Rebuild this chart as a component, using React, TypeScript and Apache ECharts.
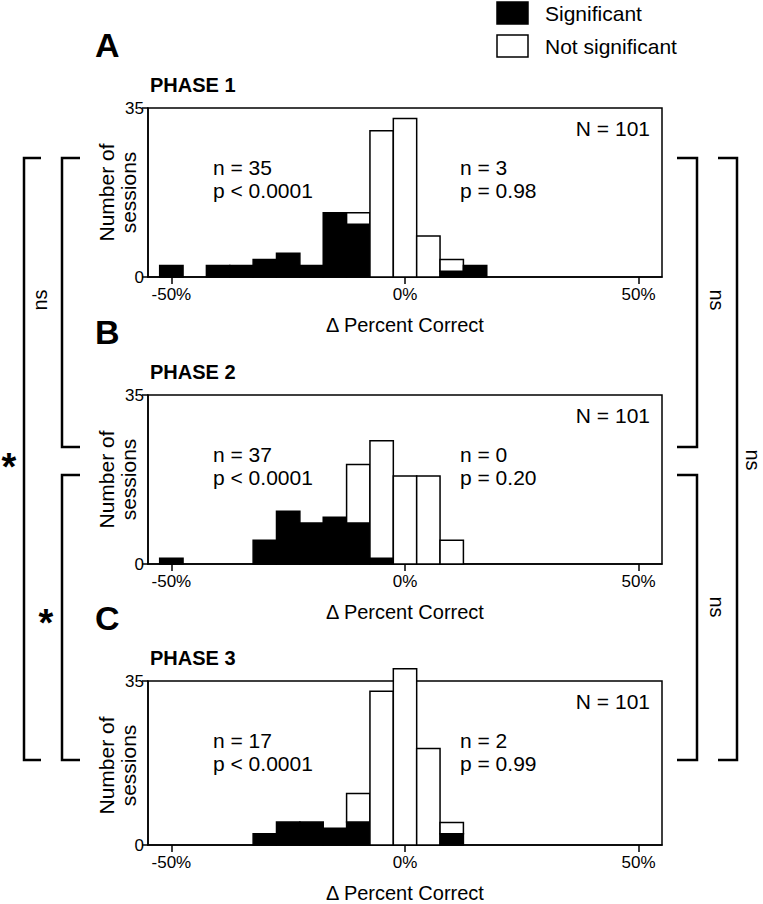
import React, { useEffect, useRef } from "react";
import * as echarts from "echarts";

const binCenters = [-50, -45, -40, -35, -30, -25, -20, -15, -10, -5, 0, 5, 10, 15, 20, 25, 30, 35, 40, 45, 50];
const binWidth = 5;
const phase1Sig = [2.4, 0, 2.4, 2.4, 3.6, 4.9, 2.4, 13.3, 10.9, 0, 0, 0, 1.2, 2.4, 0, 0, 0, 0, 0, 0, 0];
const phase1Non = [0, 0, 0, 0, 0, 0, 0, 0, 2.4, 30.3, 32.8, 8.5, 2.4, 0, 0, 0, 0, 0, 0, 0, 0];
const phase2Sig = [1.2, 0, 0, 0, 4.9, 10.9, 8.5, 9.7, 8.5, 1.2, 0, 0, 0, 0, 0, 0, 0, 0, 0, 0, 0];
const phase2Non = [0, 0, 0, 0, 0, 0, 0, 0, 12.1, 24.3, 18.2, 18.2, 4.9, 0, 0, 0, 0, 0, 0, 0, 0];
const phase3Sig = [0, 0, 0, 0, 2.4, 4.9, 4.9, 3.6, 4.9, 0, 0, 0, 2.4, 0, 0, 0, 0, 0, 0, 0, 0];
const phase3Non = [0, 0, 0, 0, 0, 0, 0, 0, 6.1, 32.8, 37.6, 20.6, 2.4, 0, 0, 0, 0, 0, 0, 0, 0];
const panelLetters = ["A", "B", "C"];
const panelTitles = ["PHASE 1", "PHASE 2", "PHASE 3"];
const totalLabels = ["N = 101", "N = 101", "N = 101"];
const leftStats = ["n = 35\np < 0.0001", "n = 37\np < 0.0001", "n = 17\np < 0.0001"];
const rightStats = ["n = 3\np = 0.98", "n = 0\np = 0.20", "n = 2\np = 0.99"];
const xTicks = [-50, 0, 50];
const yTicks = [0, 35];
const legendLabels = ["Significant", "Not significant"];

const sigSeries = [phase1Sig, phase2Sig, phase3Sig];
const nonSeries = [phase1Non, phase2Non, phase3Non];

const FONT = "'Liberation Sans', Arial, Helvetica, sans-serif";

export default function App() {
  const ref = useRef<HTMLDivElement>(null);

  useEffect(() => {
    if (!ref.current) return;
    const chart = echarts.init(ref.current, null, { renderer: "svg", width: 763, height: 904 });

    const baselines = [277, 564, 850];
    const H = 169;
    const gridLeft = 148;
    const gridRight = 763 - 662;

    const grids: any[] = [];
    const xAxes: any[] = [];
    const yAxes: any[] = [];
    const series: any[] = [];
    const graphics: any[] = [];

    baselines.forEach((b, i) => {
      const t = b - H;
      grids.push({
        left: gridLeft,
        right: gridRight,
        top: t,
        height: H,
        show: true,
        borderColor: "#000",
        borderWidth: 1.5,
        backgroundColor: "transparent",
        containLabel: false,
      });
      xAxes.push({
        type: "value",
        gridIndex: i,
        min: -55,
        max: 55,
        axisLine: { show: true, onZero: false, lineStyle: { color: "#000", width: 1.5 } },
        axisTick: { show: true, customValues: xTicks, length: 7, lineStyle: { color: "#000", width: 1.5 } },
        axisLabel: {
          show: true,
          customValues: xTicks,
          formatter: (v: number) => `${v}%`,
          color: "#000",
          fontSize: 17,
          fontFamily: FONT,
          margin: 9,
        },
        splitLine: { show: false },
        name: "\u0394 Percent Correct",
        nameLocation: "middle",
        nameGap: 38,
        nameTextStyle: { color: "#000", fontSize: 20, fontFamily: FONT },
      });
      yAxes.push({
        type: "value",
        gridIndex: i,
        min: 0,
        max: 35,
        axisLine: { show: true, onZero: false, lineStyle: { color: "#000", width: 1.5 } },
        axisTick: { show: true, customValues: yTicks, length: 6, lineStyle: { color: "#000", width: 1.5 } },
        axisLabel: {
          show: true,
          customValues: yTicks,
          color: "#000",
          fontSize: 17,
          fontFamily: FONT,
          margin: 4,
          padding: [0, 0, 4, 0],
        },
        splitLine: { show: false },
      });

      const data = binCenters.map((c, k) => [c, sigSeries[i][k], nonSeries[i][k]]);
      series.push({
        type: "custom",
        xAxisIndex: i,
        yAxisIndex: i,
        clip: false,
        data,
        encode: { x: 0, y: [1, 2] },
        renderItem: (params: any, api: any) => {
          const c = api.value(0);
          const s = api.value(1);
          const n = api.value(2);
          const children: any[] = [];
          const left = api.coord([c - binWidth / 2, 0])[0];
          const right = api.coord([c + binWidth / 2, 0])[0];
          const y0 = api.coord([c, 0])[1];
          const y1 = api.coord([c, s])[1];
          const y2 = api.coord([c, s + n])[1];
          if (s > 0) {
            children.push({
              type: "rect",
              shape: { x: left, y: y1, width: right - left, height: y0 - y1 },
              style: { fill: "#000", stroke: "#000", lineWidth: 1.5 },
            });
          }
          if (n > 0) {
            children.push({
              type: "rect",
              shape: { x: left, y: y2, width: right - left, height: y1 - y2 },
              style: { fill: "#fff", stroke: "#000", lineWidth: 1.5 },
            });
          }
          return { type: "group", children };
        },
      });

      // Panel letter and title
      graphics.push({
        type: "text",
        x: 95,
        y: t - 63,
        style: { text: panelLetters[i], font: `bold 34px ${FONT}`, fill: "#000", verticalAlign: "middle" },
      });
      graphics.push({
        type: "text",
        x: 150,
        y: t - 23,
        style: { text: panelTitles[i], font: `bold 20px ${FONT}`, fill: "#000", verticalAlign: "middle" },
      });
      graphics.push({
        type: "text",
        x: 650,
        y: t + 20,
        style: { text: totalLabels[i], font: `21px ${FONT}`, fill: "#000", align: "right", verticalAlign: "middle" },
      });
      graphics.push({
        type: "text",
        x: 213,
        y: b - 98,
        style: { text: leftStats[i], font: `21px ${FONT}`, lineHeight: 23, fill: "#000", verticalAlign: "middle" },
      });
      graphics.push({
        type: "text",
        x: 460,
        y: b - 98,
        style: { text: rightStats[i], font: `21px ${FONT}`, lineHeight: 23, fill: "#000", verticalAlign: "middle" },
      });
      graphics.push({
        type: "text",
        x: 117,
        y: t + H / 2,
        rotation: Math.PI / 2,
        style: {
          text: "Number of\nsessions",
          font: `21px ${FONT}`,
          lineHeight: 22,
          fill: "#000",
          align: "center",
          verticalAlign: "middle",
        },
      });
    });

    // Legend
    graphics.push({ type: "rect", shape: { x: 497, y: 2, width: 31, height: 22 }, style: { fill: "#000", stroke: "#000", lineWidth: 1.5 } });
    graphics.push({ type: "rect", shape: { x: 497, y: 35, width: 31, height: 22 }, style: { fill: "#fff", stroke: "#000", lineWidth: 1.5 } });
    graphics.push({ type: "text", x: 545, y: 13, style: { text: legendLabels[0], font: `21px ${FONT}`, fill: "#000", verticalAlign: "middle" } });
    graphics.push({ type: "text", x: 545, y: 46, style: { text: legendLabels[1], font: `21px ${FONT}`, fill: "#000", verticalAlign: "middle" } });

    // Brackets
    const br = (pts: number[][]) => ({
      type: "polyline",
      shape: { points: pts },
      style: { stroke: "#000", lineWidth: 2.5, fill: null },
    });
    graphics.push(br([[80, 158], [62, 158], [62, 447], [80, 447]]));
    graphics.push(br([[80, 475], [62, 475], [62, 760], [80, 760]]));
    graphics.push(br([[41, 158], [24, 158], [24, 760], [41, 760]]));
    graphics.push(br([[677, 158], [697, 158], [697, 447], [677, 447]]));
    graphics.push(br([[677, 475], [697, 475], [697, 760], [677, 760]]));
    graphics.push(br([[718, 158], [737, 158], [737, 760], [718, 760]]));

    const txt = (text: string, x: number, y: number, rot: number, font: string) => ({
      type: "text",
      x,
      y,
      rotation: rot,
      style: { text, font, fill: "#000", align: "center", verticalAlign: "middle" },
    });
    graphics.push(txt("ns", 40, 300, Math.PI / 2, `20px ${FONT}`));
    graphics.push(txt("*", 9, 467, 0, `bold 38px ${FONT}`));
    graphics.push(txt("*", 46, 623, 0, `bold 38px ${FONT}`));
    graphics.push(txt("ns", 717, 300, -Math.PI / 2, `20px ${FONT}`));
    graphics.push(txt("ns", 717, 607, -Math.PI / 2, `20px ${FONT}`));
    graphics.push(txt("ns", 753, 460, -Math.PI / 2, `20px ${FONT}`));

    chart.setOption({
      animation: false,
      backgroundColor: "#fff",
      grid: grids,
      xAxis: xAxes,
      yAxis: yAxes,
      series,
      graphic: graphics,
    });

    return () => chart.dispose();
  }, []);

  return (
    <div
      ref={ref}
      style={{ position: "absolute", left: 0, top: 0, width: 763, height: 904, background: "#fff" }}
    />
  );
}
